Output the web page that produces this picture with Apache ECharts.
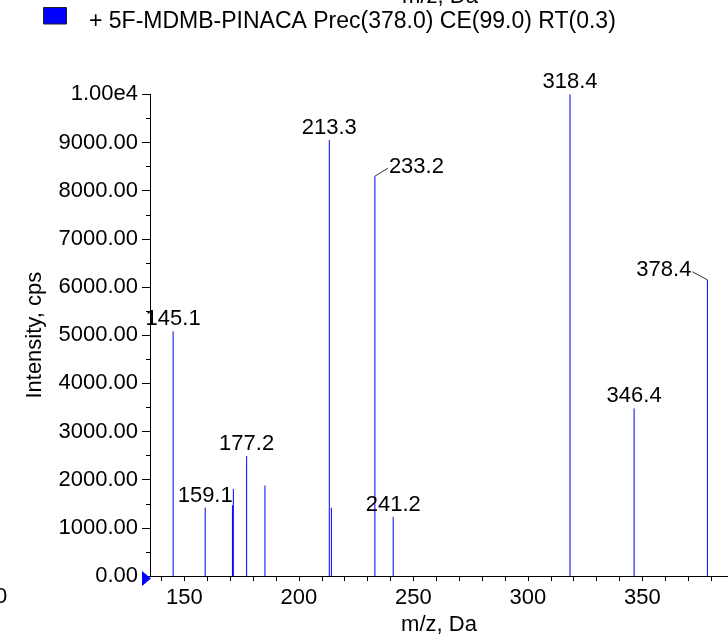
<!DOCTYPE html>
<html>
<head>
<meta charset="utf-8">
<script src="https://cdn.jsdelivr.net/npm/echarts@6/dist/echarts.min.js"></script>
<style>
html,body{margin:0;padding:0;background:#fff;}
#chart{width:728px;height:641px;}
</style>
</head>
<body>
<div id="chart"></div>
<script>
// ---- data ----
const mzValues    = [145.1, 159.1, 171.0, 171.4, 177.2, 185.2, 213.3, 214.2, 233.2, 241.2, 318.4, 346.4, 378.4];
const intensities = [5080, 1420, 1470, 1810, 2490, 1880, 9050, 1420, 8300, 1230, 10000, 3480, 6150];
const labeledPeaks = [145.1, 159.1, 177.2, 213.3, 233.2, 241.2, 318.4, 346.4, 378.4];
const xTickLabels = [150, 200, 250, 300, 350];
const xMinorTicks = [140, 150, 160, 170, 180, 190, 200, 210, 220, 230, 240, 250, 260, 270, 280, 290, 300, 310, 320, 330, 340, 350, 360, 370, 380];
const yTickLabels = ['0.00','1000.00','2000.00','3000.00','4000.00','5000.00','6000.00','7000.00','8000.00','9000.00','1.00e4'];
const legendText = '+ 5F-MDMB-PINACA Prec(378.0) CE(99.0) RT(0.3)';
const xTitle = 'm/z, Da';
const yTitle = 'Intensity, cps';

// ---- style (label placements with leader lines) ----
const FONT = '"Liberation Sans", Arial, sans-serif';
const FS = 22;
const leaderLabels = {
  '233.2': {dx: 14, dy: -9, align: 'left', lx: 13, ly: -8},
  '378.4': {dx: -16, dy: -10, align: 'right', lx: -15, ly: -8}
};

const chart = echarts.init(document.getElementById('chart'));
const data = mzValues.map((m, i) => [m, intensities[i]]);

const option = {
  backgroundColor: '#fff',
  animation: false,
  grid: {left: 150, right: 0, top: 94.3, bottom: 57.3, containLabel: false},
  xAxis: {
    type: 'value', min: 135, max: 387.4,
    name: xTitle, nameLocation: 'middle', nameGap: 37,
    nameTextStyle: {fontFamily: FONT, fontSize: FS, color: '#000'},
    axisLine: {show: true, lineStyle: {color: '#000', width: 1}},
    axisTick: {show: true, length: 5, lineStyle: {color: '#000'}, customValues: xMinorTicks},
    axisLabel: {customValues: xTickLabels, fontFamily: FONT, fontSize: FS, color: '#000', margin: 11},
    splitLine: {show: false}
  },
  yAxis: {
    type: 'value', min: 0, max: 10000, interval: 1000,
    name: yTitle, nameLocation: 'middle', nameGap: 104,
    nameTextStyle: {fontFamily: FONT, fontSize: FS, color: '#000'},
    axisLine: {show: true, lineStyle: {color: '#000', width: 1}},
    axisTick: {show: true, length: 8, lineStyle: {color: '#000'}},
    minorTick: {show: true, splitNumber: 2, length: 4, lineStyle: {color: '#000'}},
    axisLabel: {fontFamily: FONT, fontSize: FS, color: '#000', margin: 12,
      formatter: v => yTickLabels[Math.round(v / 1000)]},
    splitLine: {show: false}
  },
  graphic: [
    {type: 'rect', shape: {x: 43.5, y: 7.5, width: 23, height: 16.5},
     style: {fill: '#0000ff', stroke: '#222', lineWidth: 1}},
    {type: 'text', x: 89, y: 21.5,
     style: {text: legendText, font: '23px ' + FONT, fill: '#000', textVerticalAlign: 'middle'}},
    {type: 'text', x: 440, y: -3,
     style: {text: xTitle, font: FS + 'px ' + FONT, fill: '#000', textAlign: 'center', textVerticalAlign: 'middle'}},
    {type: 'text', x: -5, y: 597,
     style: {text: '0', font: FS + 'px ' + FONT, fill: '#000', textVerticalAlign: 'middle'}},
    {type: 'polygon', shape: {points: [[142, 571], [151, 578.5], [142, 586]]},
     style: {fill: '#0000ff'}, z: 10}
  ],
  series: [{
    type: 'custom',
    clip: false,
    encode: {x: 0, y: 1},
    data: data,
    renderItem: function (params, api) {
      const x = api.value(0), y = api.value(1);
      const p0 = api.coord([x, 0]);
      const p1 = api.coord([x, y]);
      const children = [{
        type: 'line',
        shape: {x1: p0[0], y1: p0[1], x2: p1[0], y2: p1[1]},
        style: {stroke: '#0000ff', lineWidth: 1}
      }];
      if (labeledPeaks.indexOf(x) >= 0) {
        const key = x.toFixed(1);
        const ll = leaderLabels[key];
        if (ll) {
          children.push({type: 'line',
            shape: {x1: p1[0], y1: p1[1], x2: p1[0] + ll.lx, y2: p1[1] + ll.ly},
            style: {stroke: '#000', lineWidth: 0.8}});
          children.push({type: 'text', x: p1[0] + ll.dx, y: p1[1] + ll.dy,
            style: {text: key, font: FS + 'px ' + FONT, fill: '#000',
              textAlign: ll.align, textVerticalAlign: 'middle'}});
        } else {
          children.push({type: 'text', x: p1[0], y: p1[1] - 1,
            style: {text: key, font: FS + 'px ' + FONT, fill: '#000',
              textAlign: 'center', textVerticalAlign: 'bottom'}});
        }
      }
      return {type: 'group', children: children};
    }
  }]
};
chart.setOption(option);
</script>
</body>
</html>
